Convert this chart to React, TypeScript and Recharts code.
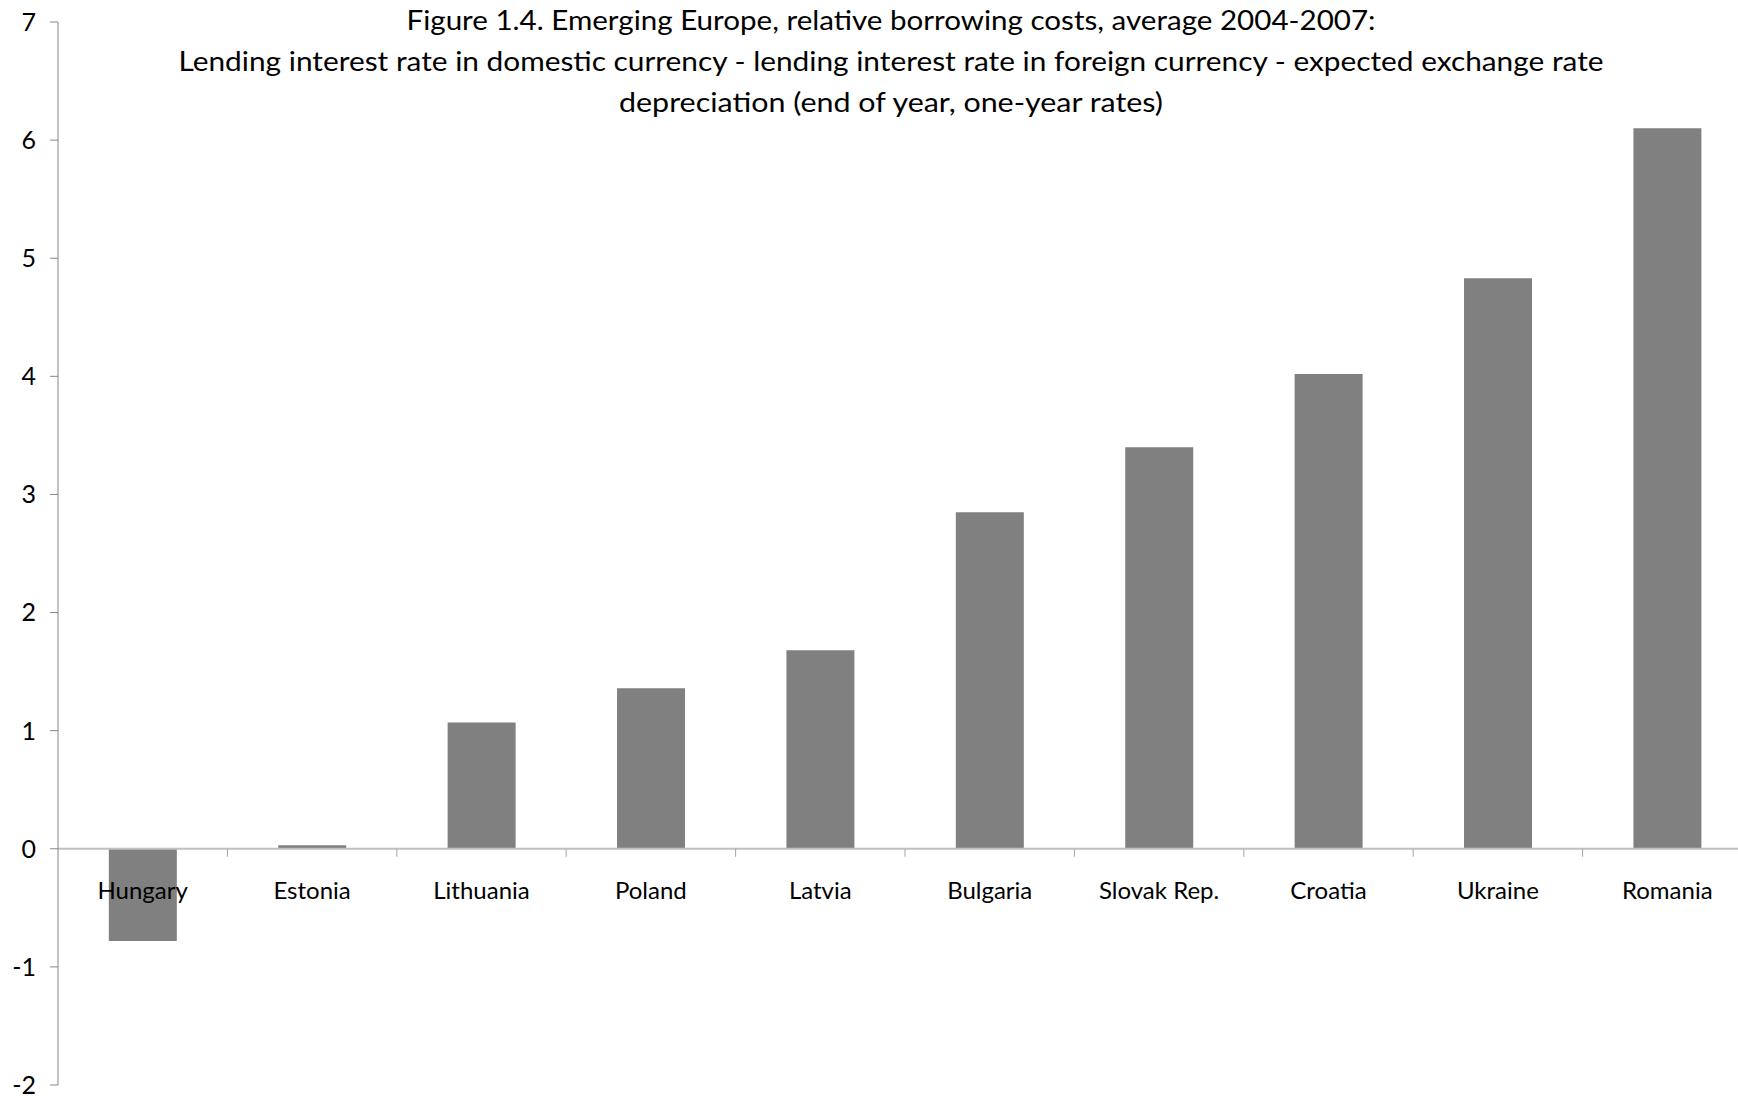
import { BarChart, Bar, XAxis, YAxis, ReferenceLine } from 'recharts';

// values
const countries = ['Hungary', 'Estonia', 'Lithuania', 'Poland', 'Latvia', 'Bulgaria', 'Slovak Rep.', 'Croatia', 'Ukraine', 'Romania'];
const costs = [-0.78, 0.03, 1.07, 1.36, 1.68, 2.85, 3.4, 4.02, 4.83, 6.1];
const yTicks = [-2, -1, 0, 1, 2, 3, 4, 5, 6, 7];
const titleLines = [
  'Figure 1.4. Emerging Europe, relative borrowing costs, average 2004-2007:',
  'Lending interest rate in domestic currency - lending interest rate in foreign currency - expected exchange rate',
  'depreciation (end of year, one-year rates)',
];

const data = countries.map((country, i) => ({ country, value: costs[i] }));

const font = 'Lato, "Open Sans", sans-serif';
const W = 1752;
const H = 1096;
const margin = { top: 22, right: 0, bottom: 10, left: 0 };
const xAxisH = 1;
const yAxisW = 58;
const yMin = -2;
const yMax = 7;
const plotW = W - margin.left - margin.right - yAxisW;
const plotH = H - margin.top - margin.bottom - xAxisH;
const zeroY = margin.top + (plotH * yMax) / (yMax - yMin);
const band = plotW / countries.length;

if (typeof document !== 'undefined') document.body.style.margin = '0';

function CategoryTick({ x, payload }: any) {
  return (
    <g>
      <line x1={x + band / 2} x2={x + band / 2} y1={zeroY} y2={zeroY + 8} stroke="#a6a6a6" />
      <text x={x} y={zeroY + 50} textAnchor="middle" fontSize={24} fill="#000" fontFamily={font}>
        {payload.value}
      </text>
    </g>
  );
}

export default function App() {
  return (
    <div style={{ width: 1738, height: 1096, overflow: 'hidden', position: 'relative', background: '#fff' }}>
      <BarChart width={W} height={H} data={data} margin={margin} barCategoryGap="30%">
        <YAxis
          type="number"
          domain={[yMin, yMax]}
          ticks={yTicks}
          width={yAxisW}
          interval={0}
          tickSize={8}
          tickMargin={14}
          axisLine={{ stroke: '#868686' }}
          tickLine={{ stroke: '#868686' }}
          tick={{ fill: '#000', fontSize: 25, fontFamily: font }}
        />
        <ReferenceLine y={0} stroke="#c0c0c0" strokeWidth={2} />
        <Bar dataKey="value" fill="#808080" isAnimationActive={false} />
        <XAxis
          dataKey="country"
          height={xAxisH}
          axisLine={false}
          tickLine={false}
          interval={0}
          tick={(props: any) => <CategoryTick {...props} />}
        />
      </BarChart>
      <svg width={1738} height={130} style={{ position: 'absolute', left: 0, top: 0, pointerEvents: 'none' }}>
        <text x={891} y={30} textAnchor="middle" fontSize={27} fontFamily={font} fill="#000" textLength={969} lengthAdjust="spacingAndGlyphs">
          {titleLines[0]}
        </text>
        <text x={891} y={71} textAnchor="middle" fontSize={27} fontFamily={font} fill="#000" textLength={1425} lengthAdjust="spacingAndGlyphs">
          {titleLines[1]}
        </text>
        <text x={891} y={112} textAnchor="middle" fontSize={27} fontFamily={font} fill="#000" textLength={544} lengthAdjust="spacingAndGlyphs">
          {titleLines[2]}
        </text>
      </svg>
    </div>
  );
}
